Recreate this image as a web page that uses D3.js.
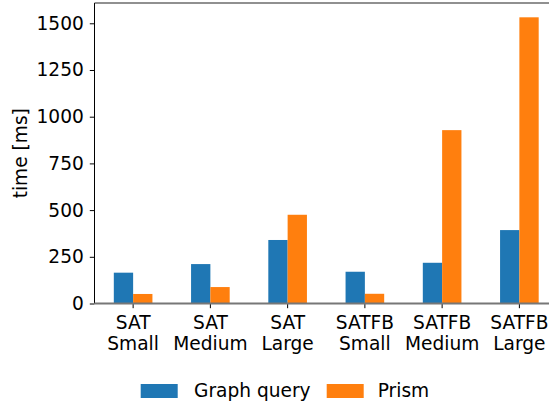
<!DOCTYPE html>
<html>
<head>
<meta charset="utf-8">
<script src="https://cdn.jsdelivr.net/npm/d3@7"></script>
<style>
  html, body { margin: 0; padding: 0; background: #fff; }
  svg { display: block; font-family: "DejaVu Sans", sans-serif; }
</style>
</head>
<body>
<svg id="chart" width="549" height="405"></svg>
<script>
// Benchmark categories (two-line tick labels)
const categories = [
  ["SAT", "Small"], ["SAT", "Medium"], ["SAT", "Large"],
  ["SATFB", "Small"], ["SATFB", "Medium"], ["SATFB", "Large"]
];
const seriesNames = ["Graph query", "Prism"];
const graphQuery = [165, 211, 340, 170, 218, 393];
const prism = [51, 88, 475, 52, 928, 1532];
const yTicks = [0, 250, 500, 750, 1000, 1250, 1500];
const colors = ["#1f77b4", "#ff7f0e"];

const svg = d3.select("#chart");
const fontSize = 18.6;
const plot = { left: 94.5, right: 558, top: 3, bottom: 303.5 };

const keys = categories.map(c => c.join(" "));
const x = d3.scaleBand().domain(keys).range([plot.left, plot.right]).padding(0);
const maxVal = d3.max([...graphQuery, ...prism]);
const y = d3.scaleLinear().domain([0, maxVal * 1.05]).range([plot.bottom, plot.top]);
const barW = x.bandwidth() * 0.25;

// Bars: series 0 left of the tick, series 1 right of it
const series = [graphQuery, prism];
series.forEach((vals, si) => {
  svg.append("g").selectAll("rect")
    .data(vals)
    .join("rect")
    .attr("x", (d, i) => x(keys[i]) + x.bandwidth() / 2 + (si === 0 ? -barW : 0))
    .attr("y", d => y(d))
    .attr("width", barW)
    .attr("height", d => y(0) - y(d))
    .attr("fill", colors[si]);
});

// Y axis
const yAxis = svg.append("g")
  .attr("transform", `translate(${plot.left},0)`)
  .call(d3.axisLeft(y).tickValues(yTicks).tickSize(4.7).tickPadding(6).tickFormat(d3.format("d")));
yAxis.select(".domain").remove();
yAxis.selectAll(".tick line").attr("stroke", "#000").attr("stroke-width", 1);
yAxis.selectAll(".tick text").attr("font-size", fontSize).attr("fill", "#000")
  .attr("font-family", "DejaVu Sans");

// X axis ticks with two-line labels
const xAxis = svg.append("g").attr("transform", `translate(0,${plot.bottom})`);
keys.forEach((k, i) => {
  const cx = x(k) + x.bandwidth() / 2;
  xAxis.append("line").attr("x1", cx).attr("x2", cx).attr("y1", 0).attr("y2", 4.7)
    .attr("stroke", "#000").attr("stroke-width", 1);
  const t = xAxis.append("text").attr("x", cx).attr("text-anchor", "middle")
    .attr("font-size", fontSize).attr("fill", "#000");
  categories[i].forEach((line, li) => {
    t.append("tspan").attr("x", cx).attr("y", 25 + li * 21.7).text(line);
  });
});

// Spines
svg.append("line").attr("x1", plot.left).attr("x2", plot.left)
  .attr("y1", plot.top).attr("y2", plot.bottom).attr("stroke", "#000").attr("stroke-width", 1);
svg.append("line").attr("x1", plot.left).attr("x2", plot.right)
  .attr("y1", plot.top).attr("y2", plot.top).attr("stroke", "#222").attr("stroke-width", 1.2);
svg.append("line").attr("x1", plot.right).attr("x2", plot.right)
  .attr("y1", plot.top).attr("y2", plot.bottom).attr("stroke", "#000").attr("stroke-width", 1);
// Zero baseline
svg.append("line").attr("x1", plot.left).attr("x2", plot.right)
  .attr("y1", y(0)).attr("y2", y(0)).attr("stroke", "#777").attr("stroke-width", 2);

// Y label
svg.append("text")
  .attr("transform", `translate(27,${(plot.top + plot.bottom) / 2}) rotate(-90)`)
  .attr("text-anchor", "middle")
  .attr("font-size", fontSize).attr("fill", "#000")
  .text("time [ms]");

// Legend
const legend = [
  { name: seriesNames[0], color: colors[0], px: 140.7, tx: 194 },
  { name: seriesNames[1], color: colors[1], px: 326.7, tx: 377.7 }
];
legend.forEach(l => {
  svg.append("rect").attr("x", l.px).attr("y", 384).attr("width", 37).attr("height", 14)
    .attr("fill", l.color);
  svg.append("text").attr("x", l.tx).attr("y", 397).attr("font-size", fontSize)
    .attr("fill", "#000").text(l.name);
});
</script>
</body>
</html>
